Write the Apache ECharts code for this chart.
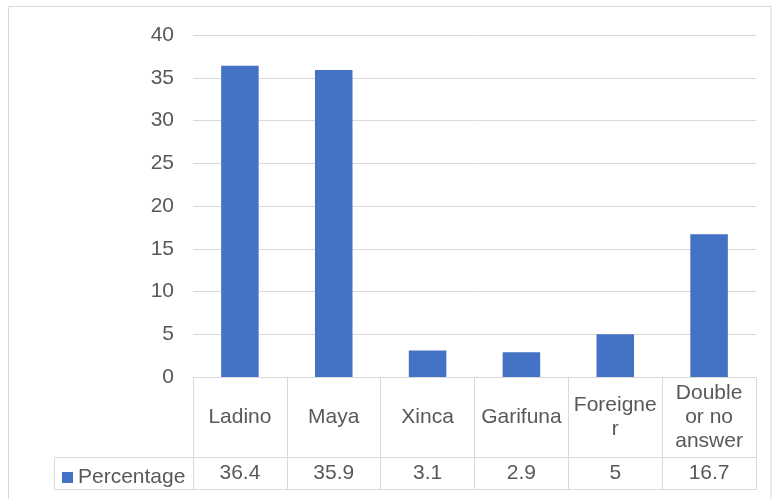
<!DOCTYPE html>
<html>
<head>
<meta charset="utf-8">
<script src="https://cdn.jsdelivr.net/npm/echarts@6/dist/echarts.min.js"></script>
<style>
  html, body { margin: 0; padding: 0; background: #ffffff; }
  #chart { width: 772px; height: 499px; }
</style>
</head>
<body>
<div id="chart"></div>
<script>
// Ethnic self-identification, percentage of respondents
const categories = ['Ladino', 'Maya', 'Xinca', 'Garifuna', 'Foreigner', 'Double or no answer'];
const categoryLabels = ['Ladino', 'Maya', 'Xinca', 'Garifuna', 'Foreigne\nr', 'Double\nor no\nanswer'];
const percentage = [36.4, 35.9, 3.1, 2.9, 5, 16.7];
const seriesName = 'Percentage';

const TEXT = '#595959';
const LINE = '#d9d9d9';
const FONT = 'Liberation Sans, Arial, sans-serif';
const FS = 21;

// plot area and data-table geometry
const W = 772, H = 499;
const GRID_LEFT = 193, GRID_RIGHT = 16, GRID_TOP = 35, GRID_BOTTOM = 122;
const AXIS_Y = H - GRID_BOTTOM;
const ROW1 = 80;   // category-name row height
const ROW2 = 32;   // value row height
const LEGEND_CELL_LEFT = 54.5;

const chart = echarts.init(document.getElementById('chart'), null, { renderer: 'canvas' });

chart.setOption({
  animation: false,
  backgroundColor: '#ffffff',
  textStyle: { fontFamily: FONT, color: TEXT },
  grid: { left: GRID_LEFT, right: GRID_RIGHT, top: GRID_TOP, bottom: GRID_BOTTOM, containLabel: false },
  legend: {
    data: [seriesName],
    left: 57,
    top: AXIS_Y + ROW1 + ROW2 / 2 - 11,
    icon: 'rect',
    itemWidth: 11,
    itemHeight: 11,
    itemGap: 0,
    textStyle: { fontFamily: FONT, fontSize: FS, color: TEXT }
  },
  yAxis: {
    type: 'value',
    min: 0,
    max: 40,
    interval: 5,
    axisLine: { show: false },
    axisTick: { show: false },
    axisLabel: { fontFamily: FONT, fontSize: FS, color: TEXT, margin: 19 },
    splitLine: { lineStyle: { color: LINE, width: 1 } }
  },
  xAxis: [
    {
      type: 'category',
      data: categoryLabels,
      position: 'bottom',
      axisLine: { show: true, lineStyle: { color: LINE, width: 1 } },
      axisTick: { show: true, interval: 0, length: ROW1 + ROW2, lineStyle: { color: LINE, width: 1 } },
      axisLabel: {
        interval: 0,
        margin: ROW1 / 2,
        verticalAlign: 'middle',
        lineHeight: 24,
        fontFamily: FONT,
        fontSize: FS,
        color: TEXT
      },
      splitLine: { show: false }
    },
    {
      type: 'category',
      data: percentage.map(String),
      position: 'bottom',
      offset: ROW1,
      axisLine: { show: true, lineStyle: { color: LINE, width: 1 } },
      axisTick: { show: false },
      axisLabel: {
        interval: 0,
        margin: ROW2 / 2,
        verticalAlign: 'middle',
        fontFamily: FONT,
        fontSize: FS,
        color: TEXT
      }
    },
    {
      type: 'category',
      data: categories,
      position: 'bottom',
      offset: ROW1 + ROW2,
      axisLine: { show: true, lineStyle: { color: LINE, width: 1 } },
      axisTick: { show: false },
      axisLabel: { show: false }
    }
  ],
  series: [
    {
      name: seriesName,
      type: 'bar',
      xAxisIndex: 0,
      data: percentage,
      barWidth: '40%',
      itemStyle: { color: '#4472c4' }
    }
  ],
  graphic: [
    {
      // chart frame
      type: 'rect',
      silent: true,
      shape: { x: 8.5, y: 6.5, width: W - 9.5, height: H },
      style: { fill: null, stroke: LINE, lineWidth: 1 },
      z: -1
    },
    {
      // legend cell of the data table
      type: 'polyline',
      silent: true,
      shape: {
        points: [
          [GRID_LEFT, AXIS_Y + ROW1 + 0.5],
          [LEGEND_CELL_LEFT, AXIS_Y + ROW1 + 0.5],
          [LEGEND_CELL_LEFT, AXIS_Y + ROW1 + ROW2 + 0.5],
          [GRID_LEFT, AXIS_Y + ROW1 + ROW2 + 0.5]
        ]
      },
      style: { fill: null, stroke: LINE, lineWidth: 1 }
    }
  ]
});
</script>
</body>
</html>
